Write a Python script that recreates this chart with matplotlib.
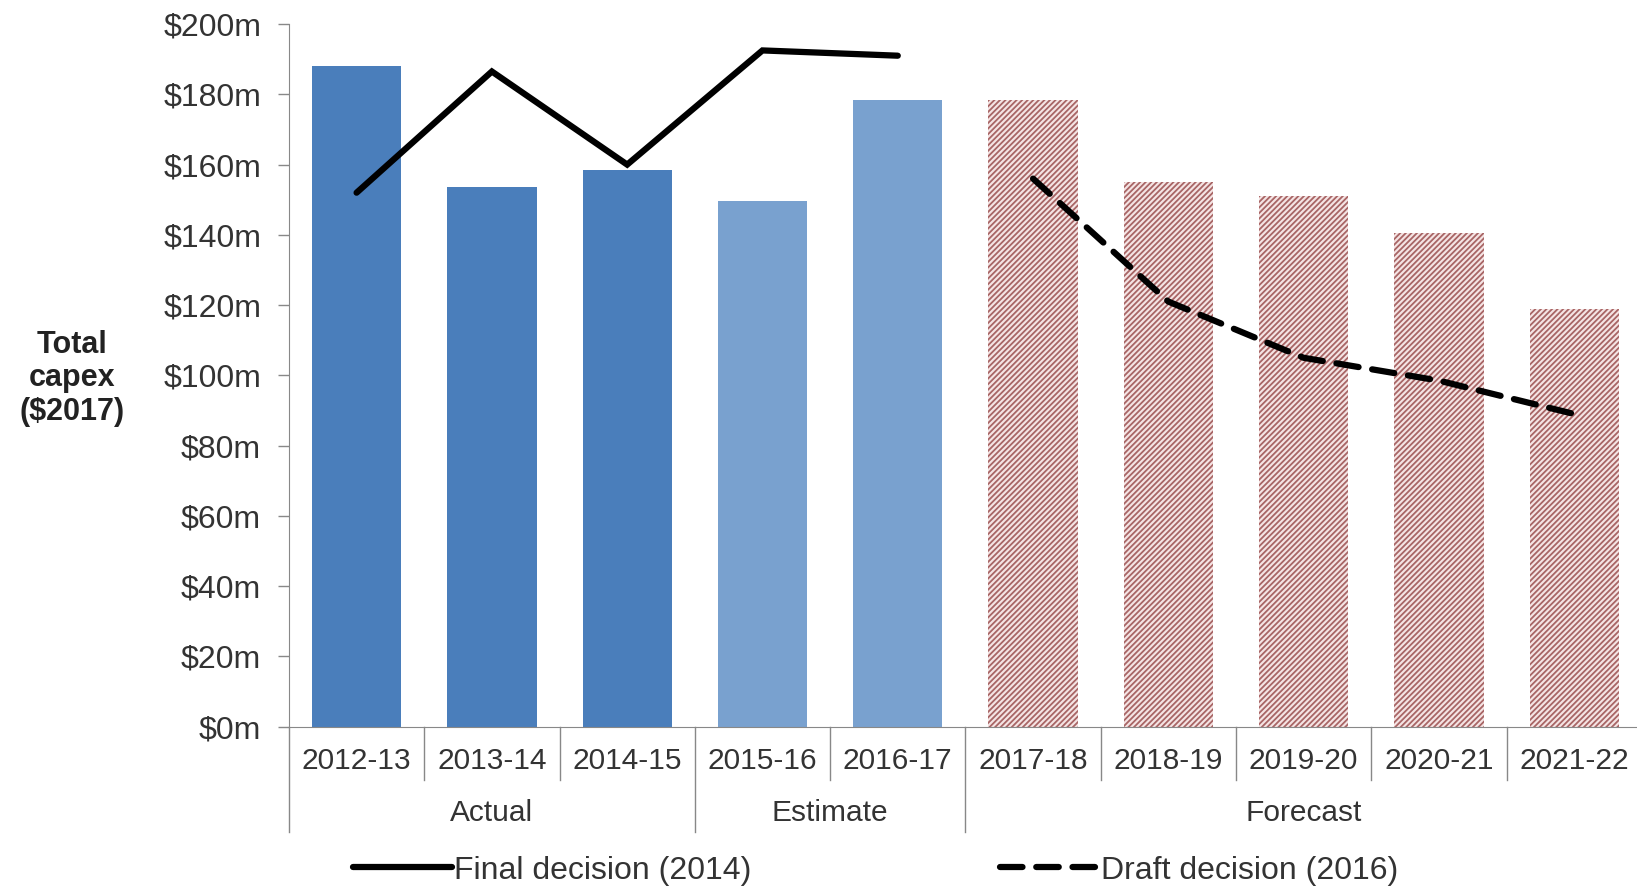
import matplotlib
matplotlib.use('Agg')
import matplotlib.pyplot as plt
import matplotlib.transforms as mtransforms
from matplotlib.lines import Line2D

plt.rcParams['font.family'] = ['Liberation Sans', 'DejaVu Sans']
plt.rcParams['hatch.linewidth'] = 1.3

years = ['2012-13', '2013-14', '2014-15', '2015-16', '2016-17',
         '2017-18', '2018-19', '2019-20', '2020-21', '2021-22']
groups = ['Actual', 'Actual', 'Actual', 'Estimate', 'Estimate',
          'Forecast', 'Forecast', 'Forecast', 'Forecast', 'Forecast']
capex = [188, 153.5, 158.5, 149.5, 178.5, 178.5, 155, 151, 140.5, 119]

final_years = ['2012-13', '2013-14', '2014-15', '2015-16', '2016-17']
final_vals = [152, 186.5, 160, 192.5, 191]

draft_years = ['2017-18', '2018-19', '2019-20', '2020-21', '2021-22']
draft_vals = [156, 121, 105, 98.5, 89]

yticks = list(range(0, 201, 20))

group_colors = {'Actual': '#4a7ebb', 'Estimate': '#79a1cf', 'Forecast': '#f5e4e4'}

fig = plt.figure(figsize=(16.37, 8.92), dpi=100)
ax = fig.add_axes([0.1765, 0.1854, 0.8265, 0.7876])

x = list(range(len(years)))
for xi, val, g in zip(x, capex, groups):
    if g == 'Forecast':
        ax.bar(xi, val, width=0.66, color=group_colors[g], edgecolor='#a86565',
               hatch='//////', linewidth=0, zorder=2)
    else:
        ax.bar(xi, val, width=0.66, color=group_colors[g], linewidth=0, zorder=2)

fx = [years.index(y) for y in final_years]
dx = [years.index(y) for y in draft_years]
ax.plot(fx, final_vals, color='black', linewidth=4.5, solid_capstyle='round',
        solid_joinstyle='miter', zorder=4, label='Final decision (2014)')
ax.plot(dx, draft_vals, color='black', linewidth=4.5, dashes=(3.6, 2.2),
        dash_capstyle='round', zorder=4, label='Draft decision (2016)')

ax.set_xlim(-0.5, len(years) - 0.5)
ax.set_ylim(0, 200)
ax.set_yticks(yticks)
ax.set_yticklabels([f'${v}m' for v in yticks], fontsize=23, color='#333333')
ax.tick_params(axis='y', length=8, width=1, color='#888888', pad=12)
ax.set_xticks([])
for side in ('top', 'right'):
    ax.spines[side].set_visible(False)
ax.spines['left'].set_color('#888888')
ax.spines['bottom'].set_color('#888888')

# two-level category axis
trans = mtransforms.blended_transform_factory(ax.transData, ax.transAxes)
for xi, y in zip(x, years):
    ax.text(xi, -0.049, y, transform=trans, ha='center', va='center',
            fontsize=21.5, color='#333333')
for xi in x[1:]:
    edge = xi - 0.5
    bottom = -0.150 if groups[xi] != groups[xi - 1] else -0.076
    ax.add_line(Line2D([edge, edge], [0, bottom], transform=trans,
                       color='#888888', linewidth=1, clip_on=False))
ax.add_line(Line2D([-0.5, -0.5], [0, -0.150], transform=trans,
                   color='#888888', linewidth=1, clip_on=False))

seen = []
for g in groups:
    if g not in seen:
        seen.append(g)
for g in seen:
    idx = [i for i, gg in enumerate(groups) if gg == g]
    ax.text((idx[0] + idx[-1]) / 2, -0.123, g, transform=trans, ha='center',
            va='center', fontsize=21.5, color='#333333')

fig.text(0.044, 0.576, 'Total\ncapex\n($2017)', ha='center', va='center',
         fontsize=22, fontweight='bold', color='#222222', linespacing=1.15)

handles, labels = ax.get_legend_handles_labels()
fig.legend(handles, labels, loc='center', bbox_to_anchor=(0.535, 0.024),
           ncol=2, frameon=False, fontsize=23, handlelength=3.1,
           handletextpad=0.05, columnspacing=7.8, labelcolor='#333333')

fig.savefig('out.png', dpi=100)
